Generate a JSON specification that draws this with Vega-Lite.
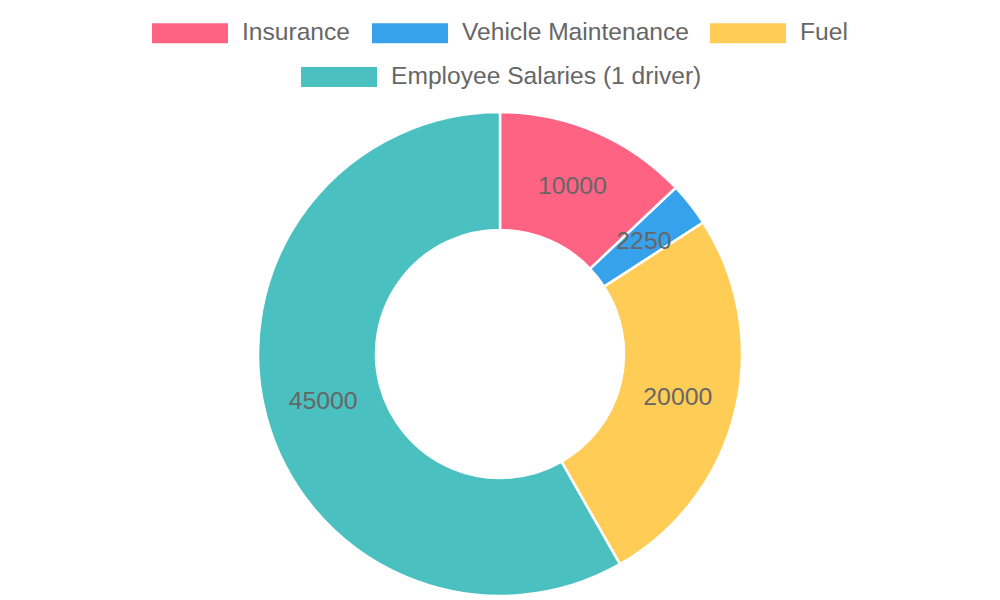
{
  "$schema": "https://vega.github.io/schema/vega-lite/v6.json",
  "width": 1000,
  "height": 492,
  "autosize": {"type": "none"},
  "padding": {"top": 108, "left": 0, "right": 0, "bottom": 0},
  "background": "white",
  "config": {
    "view": {"stroke": null},
    "font": "Liberation Sans",
    "legend": {
      "labelFont": "Liberation Sans",
      "labelFontSize": 24.6,
      "labelColor": "#666666",
      "labelOffset": 14,
      "labelLimit": 0,
      "columnPadding": 21,
      "padding": 0,
      "symbolType": "M-1,-0.263H1V0.263H-1Z",
      "symbolSize": 5776,
      "symbolStrokeWidth": 0,
      "symbolOpacity": 1,
      "title": null
    }
  },
  "data": {
    "values": [
      {"idx": 1, "category": "Insurance", "cost": 10000},
      {"idx": 2, "category": "Vehicle Maintenance", "cost": 2250},
      {"idx": 3, "category": "Fuel", "cost": 20000},
      {"idx": 4, "category": "Employee Salaries (1 driver)", "cost": 45000}
    ]
  },
  "encoding": {
    "theta": {"field": "cost", "type": "quantitative", "stack": true},
    "order": {"field": "idx", "type": "quantitative"}
  },
  "layer": [
    {
      "mark": {"type": "arc", "radius": 242, "radius2": 124, "stroke": "white", "strokeWidth": 2.5},
      "encoding": {
        "color": {
          "field": "category",
          "type": "nominal",
          "scale": {
            "domain": ["Insurance", "Vehicle Maintenance", "Fuel", "Employee Salaries (1 driver)"],
            "range": ["#ff6384", "#36a2eb", "#ffcd56", "#4bc0c0"]
          },
          "legend": {
            "orient": "none",
            "direction": "horizontal",
            "legendX": 152,
            "legendY": -113,
            "values": ["Insurance", "Vehicle Maintenance", "Fuel"]
          }
        }
      }
    },
    {
      "mark": {"type": "arc", "radius": 242, "radius2": 124, "stroke": "white", "strokeWidth": 2.5},
      "encoding": {
        "fill": {
          "field": "category",
          "type": "nominal",
          "scale": {
            "domain": ["Employee Salaries (1 driver)", "Insurance", "Vehicle Maintenance", "Fuel"],
            "range": ["#4bc0c0", "#ff6384", "#36a2eb", "#ffcd56"]
          },
          "legend": {
            "orient": "none",
            "direction": "horizontal",
            "legendX": 301,
            "legendY": -69,
            "values": ["Employee Salaries (1 driver)"]
          }
        }
      }
    },
    {
      "mark": {"type": "text", "radius": 183, "fontSize": 24.8, "font": "Liberation Sans", "fill": "#666666", "align": "center", "baseline": "middle", "dy": 1},
      "encoding": {
        "text": {"field": "cost", "type": "quantitative", "format": "d"}
      }
    }
  ]
}
